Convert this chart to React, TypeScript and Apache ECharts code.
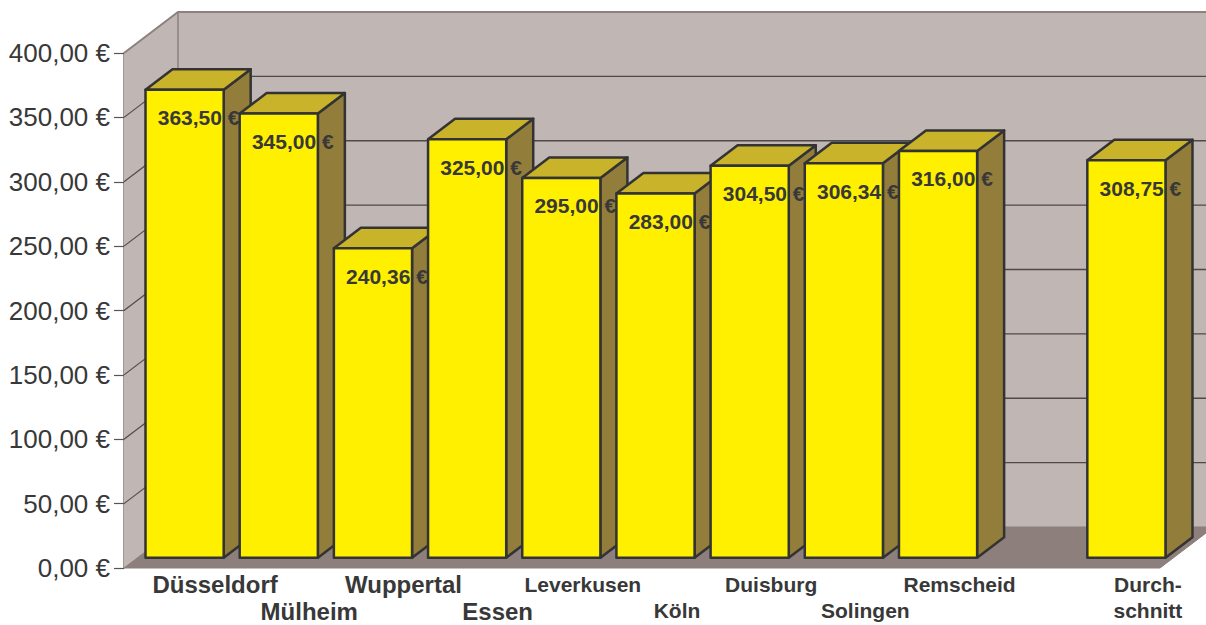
import React, { useEffect, useRef } from "react";
import * as echarts from "echarts";

const categories = ["Düsseldorf", "Mülheim", "Wuppertal", "Essen", "Leverkusen", "Köln", "Duisburg", "Solingen", "Remscheid", "", "Durchschnitt"];
const values: (number | null)[] = [363.5, 345, 240.36, 325, 295, 283, 304.5, 306.34, 316, null, 308.75];
const yMin = 0;
const yMax = 400;
const yStep = 50;

const DX = 54;
const DY = -41;
const FONT = "'Liberation Sans', Arial, sans-serif";
const TEXT = "#383838";

const fmt = (v: number) => v.toFixed(2).replace(".", ",") + " €";

export default function App() {
  const ref = useRef<HTMLDivElement>(null);
  useEffect(() => {
    if (!ref.current) return;
    const chart = echarts.init(ref.current, null, { renderer: "svg" });
    const barData = values
      .map((v, i) => (v == null ? null : [i, v]))
      .filter((d) => d !== null);

    const option: any = {
      animation: false,
      grid: { left: 124, width: 1036, top: 53, height: 517 },
      xAxis: {
        type: "category",
        data: categories,
        axisLine: { show: false },
        axisTick: { show: false },
        splitLine: { show: false },
        axisLabel: {
          interval: 0,
          margin: 3,
          lineHeight: 26,
          formatter: (value: string, index: number) => {
            if (!value) return "";
            const st = index < 4 ? "b" : "s";
            const lines = value === "Durchschnitt" ? ["Durch-", "schnitt"] : [value];
            const body = lines.map((l) => `{${st}|${l}}`).join("\n");
            return index % 2 === 1 ? `{${st}| }\n` + body : body;
          },
          rich: {
            b: { fontSize: 24, fontWeight: "bold", fontFamily: FONT, color: TEXT, lineHeight: 27, padding: [0, 0, 0, 88] },
            s: { fontSize: 21, fontWeight: "bold", fontFamily: FONT, color: TEXT, lineHeight: 26, padding: [0, 0, 0, 70] },
          },
        },
      },
      yAxis: {
        type: "value",
        min: yMin,
        max: yMax,
        interval: yStep,
        axisLine: { show: true, lineStyle: { color: "#7e7472", width: 1.5 } },
        axisTick: { show: true, length: 10, lineStyle: { color: "#555", width: 1.2 } },
        splitLine: { show: false },
        axisLabel: {
          margin: 14,
          fontSize: 26,
          fontFamily: FONT,
          color: TEXT,
          formatter: (v: number) => fmt(v),
        },
      },
      series: [
        {
          type: "custom",
          z: 1,
          data: [[0, 0]],
          renderItem: (params: any, api: any) => {
            const cs = params.coordSys;
            const L = cs.x, T = cs.y, R = cs.x + cs.width, B = cs.y + cs.height;
            const children: any[] = [];
            const wallFill = "#c0b6b3";
            children.push({
              type: "polygon",
              shape: { points: [[L + DX, T + DY], [R + DX + 20, T + DY], [R + DX + 20, B + DY], [L + DX, B + DY]] },
              style: { fill: wallFill, stroke: null },
            });
            children.push({
              type: "polygon",
              shape: { points: [[L, T], [L + DX, T + DY], [L + DX, B + DY], [L, B]] },
              style: { fill: wallFill, stroke: null },
            });
            children.push({
              type: "polygon",
              shape: { points: [[L, B], [L + DX, B + DY], [R + DX, B + DY], [R, B]] },
              style: { fill: "#8c7f7c", stroke: "#8a7e7b", lineWidth: 1 },
            });
            for (let v = yMin + yStep; v < yMax; v += yStep) {
              const y = api.coord([0, v])[1];
              children.push({
                type: "line",
                shape: { x1: L + DX, y1: y + DY, x2: R + DX + 20, y2: y + DY },
                style: { stroke: "#4e4a4a", lineWidth: 1.3 },
              });
              children.push({
                type: "line",
                shape: { x1: L, y1: y, x2: L + DX, y2: y + DY },
                style: { stroke: "#4e4a4a", lineWidth: 1.2 },
              });
            }
            children.push({
              type: "polyline",
              shape: { points: [[L, T], [L + DX, T + DY], [R + DX + 20, T + DY]] },
              style: { stroke: "#8c817e", lineWidth: 2, fill: null },
            });
            children.push({
              type: "line",
              shape: { x1: L + DX, y1: T + DY, x2: L + DX, y2: B + DY },
              style: { stroke: "#8c817e", lineWidth: 1.5 },
            });
            return { type: "group", children };
          },
        },
        {
          type: "custom",
          z: 2,
          data: barData,
          renderItem: (params: any, api: any) => {
            const idx = api.value(0);
            const v = api.value(1);
            const [cx, yTop] = api.coord([idx, v]);
            const yBase = api.coord([idx, 0])[1];
            const band = api.size([1, 0])[0];
            const w = band * 0.83;
            const xl = cx - w / 2 + DX * 0.25;
            const xr = xl + w;
            const yt = yTop + DY * 0.25;
            const yb = yBase + DY * 0.25;
            const bdx = DX * 0.5, bdy = DY * 0.5;
            const stroke = { stroke: "#333333", lineWidth: 2.5, lineJoin: "round" };
            return {
              type: "group",
              children: [
                {
                  type: "polygon",
                  shape: { points: [[xr, yt], [xr + bdx, yt + bdy], [xr + bdx, yb + bdy], [xr, yb]] },
                  style: { fill: "#937d3a", ...stroke },
                },
                {
                  type: "polygon",
                  shape: { points: [[xl, yt], [xl + bdx, yt + bdy], [xr + bdx, yt + bdy], [xr, yt]] },
                  style: { fill: "#c9b32b", ...stroke },
                },
                {
                  type: "rect",
                  shape: { x: xl, y: yt, width: w, height: yb - yt },
                  style: { fill: "#fff000", ...stroke },
                },
                {
                  type: "text",
                  style: {
                    x: (xl + xr) / 2 + 14,
                    y: yt + 28,
                    text: fmt(v),
                    fontSize: 21,
                    fontWeight: "bold",
                    fontFamily: FONT,
                    fill: TEXT,
                    textAlign: "center",
                    textVerticalAlign: "middle",
                  },
                },
              ],
            };
          },
        },
      ],
    };
    chart.setOption(option);
    return () => chart.dispose();
  }, []);
  return (
    <div
      ref={ref}
      style={{ position: "fixed", left: 0, top: 0, width: 1206, height: 625, background: "#ffffff" }}
    />
  );
}
